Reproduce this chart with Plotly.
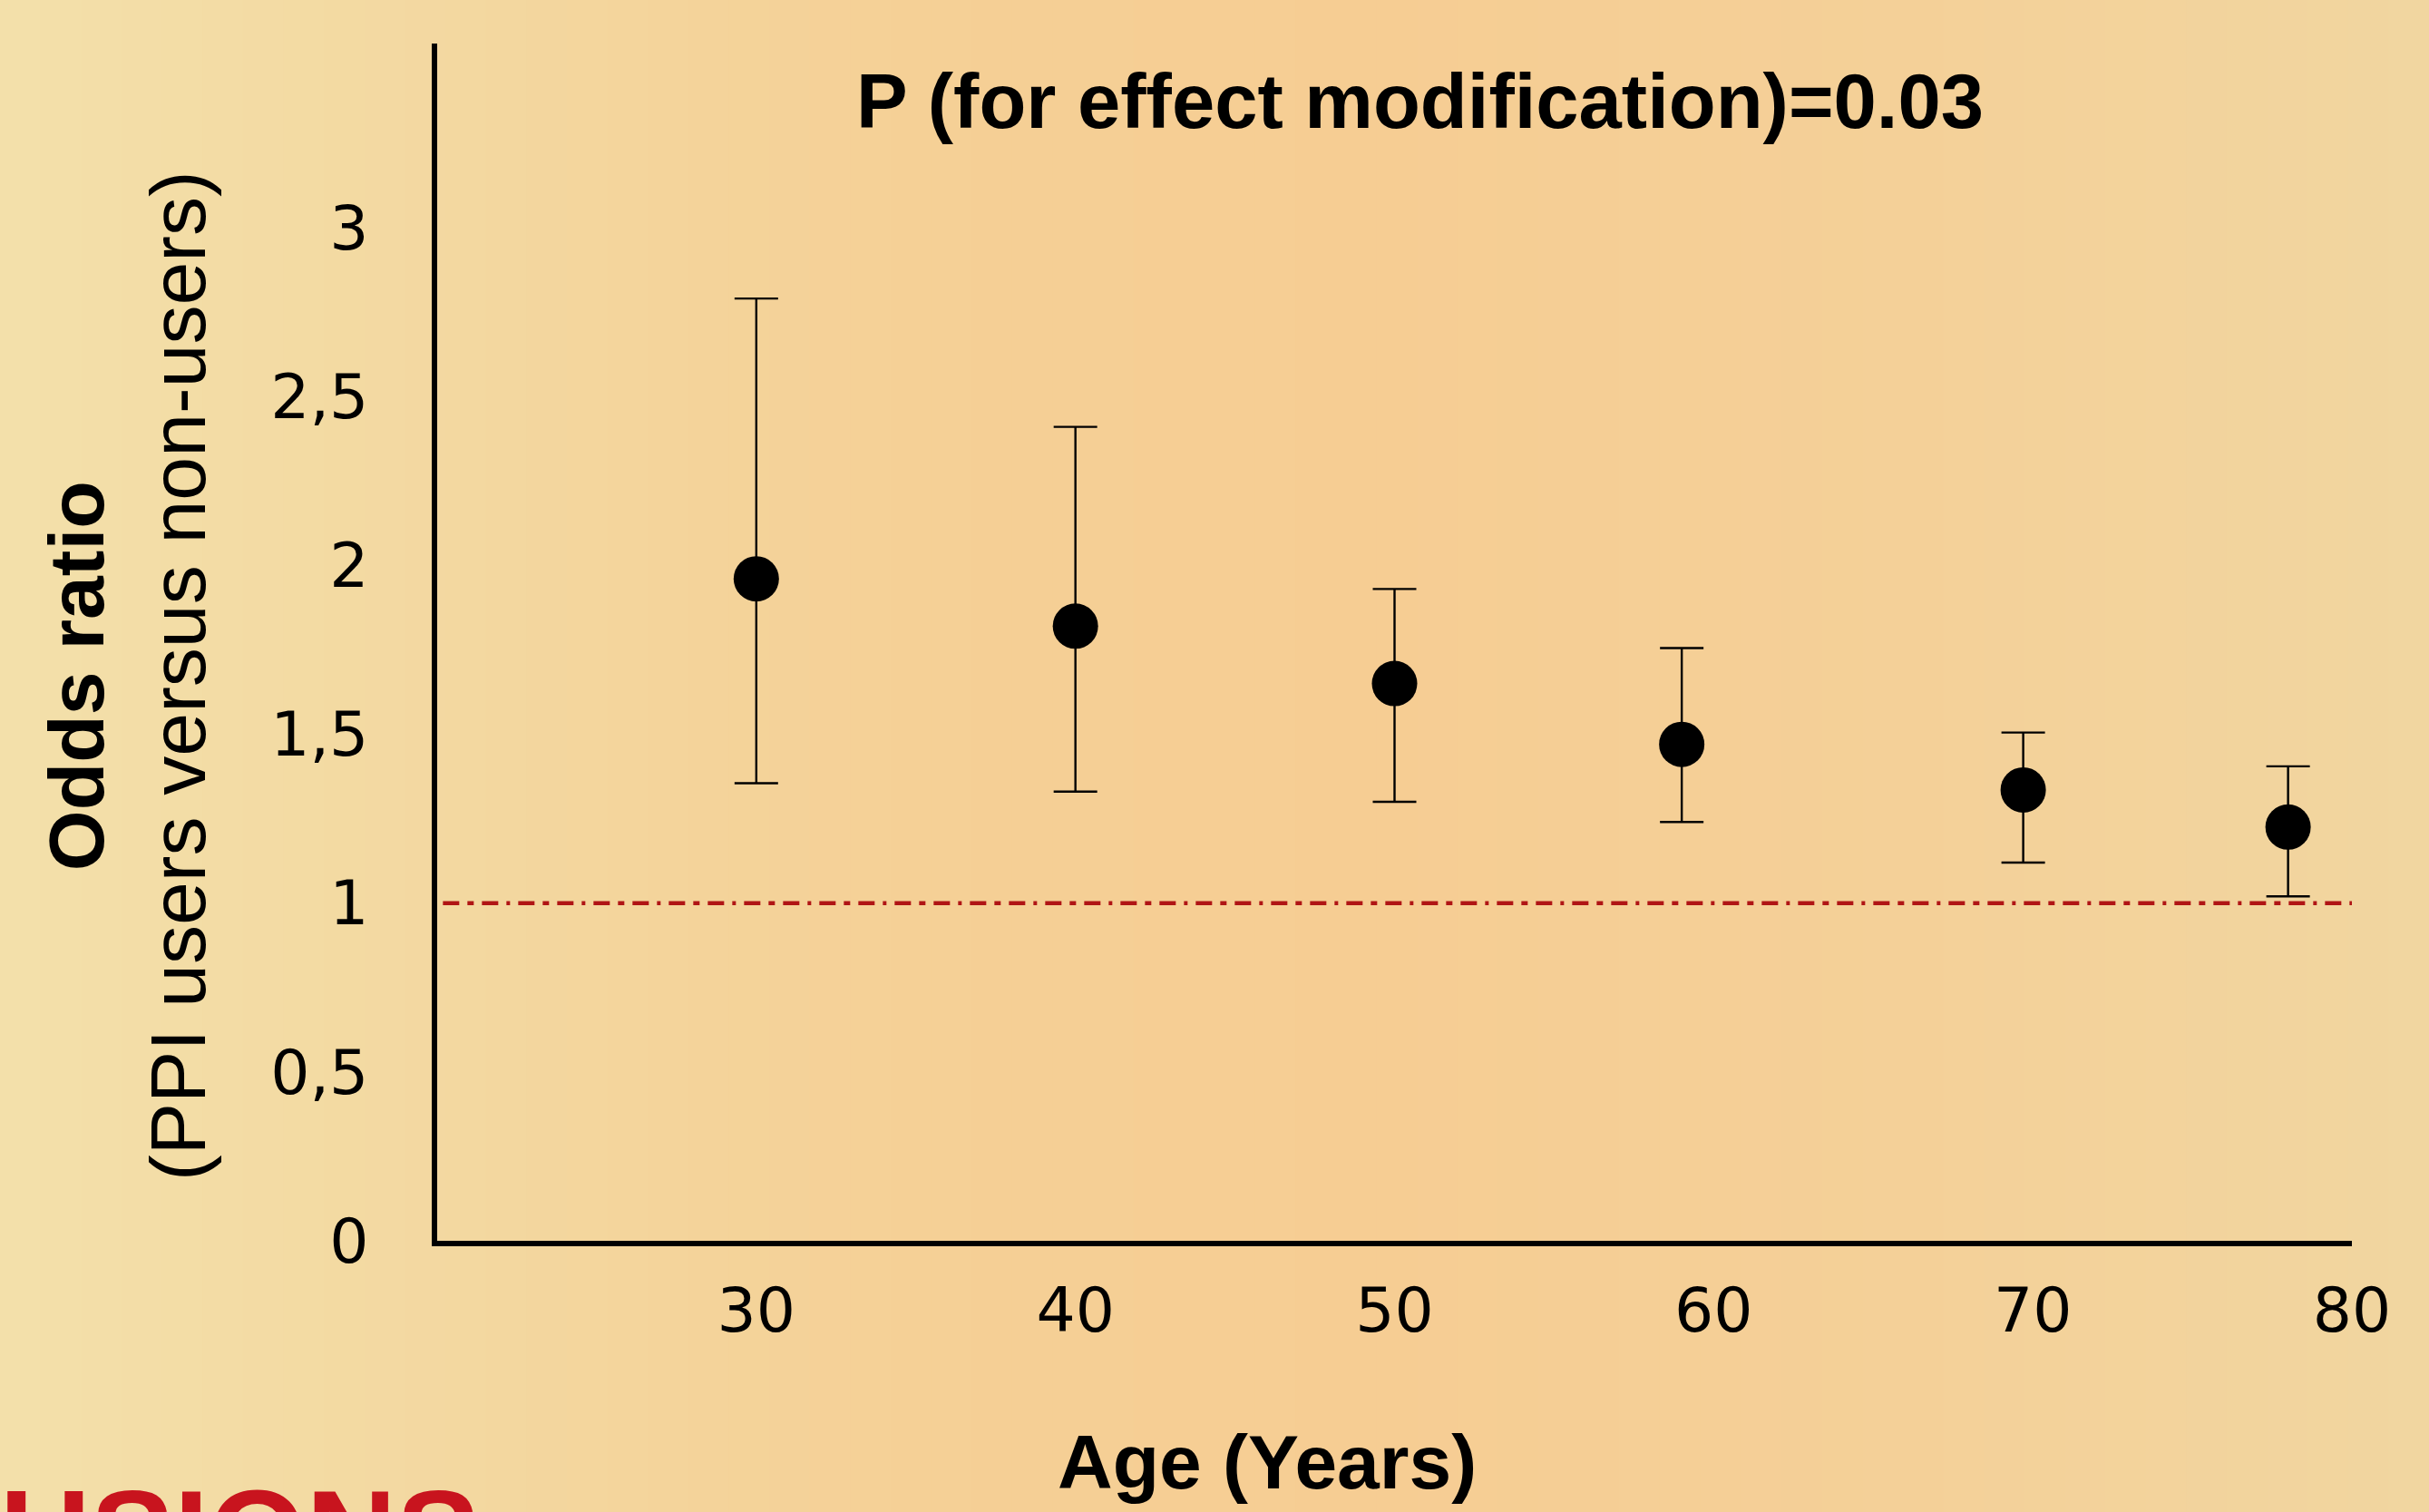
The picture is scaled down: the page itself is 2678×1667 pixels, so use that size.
import plotly.graph_objects as go

# ---- data ----
ages = [30, 40, 50, 59, 69.7, 78]
odds_ratio = [1.96, 1.82, 1.65, 1.47, 1.335, 1.225]
ci_upper = [2.79, 2.41, 1.93, 1.755, 1.505, 1.405]
ci_lower = [1.355, 1.33, 1.30, 1.24, 1.12, 1.02]
reference_or = 1.0

x_tickvals = [30, 40, 50, 60, 70, 80]
x_ticktext = ["30", "40", "50", "60", "70", "80"]
y_tickvals = [0, 0.5, 1, 1.5, 2, 2.5, 3]
y_ticktext = ["0", "0,5", "1", "1,5", "2", "2,5", "3"]

title_text = "<b>P (for effect modification)=0.03</b>"
x_title = "<b>Age (Years)</b>"
y_title = "<b>Odds ratio</b><br>(PPI users versus non-users)"
footer_text = "<b>USIONS</b>"

err_plus = [u - o for u, o in zip(ci_upper, odds_ratio)]
err_minus = [o - l for o, l in zip(odds_ratio, ci_lower)]

W, H = 2678, 1667
L, R, T, B = 482, 85, 48, 299
PW, PH = W - L - R, H - T - B


def px_to_paper_x(px):
    return (px - L) / PW


def px_to_paper_y(py):
    return (H - B - py) / PH


fig = go.Figure()

# background gradient strips (styling only)
stops = [(0, (243, 224, 170)), (500, (243, 216, 160)), (1000, (245, 208, 150)),
         (1500, (246, 205, 147)), (2100, (244, 208, 152)), (2678, (241, 214, 160))]


def col_at(px):
    for (a, ca), (b, cb) in zip(stops[:-1], stops[1:]):
        if a <= px <= b:
            t = (px - a) / (b - a)
            return tuple(int(round(ca[i] + (cb[i] - ca[i]) * t)) for i in range(3))
    return stops[-1][1]


n = 60
for i in range(n):
    x0 = W * i / n
    x1 = W * (i + 1) / n + 1
    c = col_at((x0 + x1) / 2)
    fig.add_shape(type="rect", xref="paper", yref="paper",
                  x0=px_to_paper_x(x0 - (5 if i == 0 else 0)), x1=px_to_paper_x(x1),
                  y0=px_to_paper_y(H + 5), y1=px_to_paper_y(-5),
                  fillcolor="rgb(%d,%d,%d)" % c, line_width=0, layer="below")

# reference line
fig.add_shape(type="line", xref="paper", yref="y",
              x0=0.003, x1=1.0, y0=reference_or, y1=reference_or,
              line=dict(color="#B01515", width=4.5,
                        dash="18px,9px,7px,9px,18px,9px,4px,9px"),
              layer="above")

fig.add_trace(go.Scatter(
    x=ages, y=odds_ratio, mode="markers",
    marker=dict(size=50, color="black", symbol="circle"),
    error_y=dict(type="data", symmetric=False, array=err_plus, arrayminus=err_minus,
                 color="black", thickness=2.4, width=24),
    showlegend=False, cliponaxis=False,
))

fig.update_layout(
    width=W, height=H,
    margin=dict(l=L, r=R, t=T, b=B),
    paper_bgcolor="rgb(244,212,156)",
    plot_bgcolor="rgba(0,0,0,0)",
    showlegend=False,
    xaxis=dict(range=[20, 80], showgrid=False, zeroline=False,
               showline=True, linecolor="black", linewidth=6,
               tickmode="array", tickvals=x_tickvals, ticktext=x_ticktext,
               ticks="", ticklabelstandoff=12,
               tickfont=dict(family="DejaVu Sans", size=68, color="black")),
    yaxis=dict(range=[0, 3.545], showgrid=False, zeroline=False,
               showline=True, linecolor="black", linewidth=6,
               tickmode="array", tickvals=y_tickvals, ticktext=y_ticktext,
               ticks="", ticklabelstandoff=56,
               tickfont=dict(family="DejaVu Sans", size=68, color="black")),
)

fig.add_annotation(text=title_text, xref="paper", yref="paper",
                   x=px_to_paper_x(1566), y=px_to_paper_y(111),
                   xanchor="center", yanchor="middle", showarrow=False,
                   font=dict(family="Liberation Sans", size=85, color="black"))

fig.add_annotation(text=x_title, xref="paper", yref="paper",
                   x=px_to_paper_x(1397), y=px_to_paper_y(1612),
                   xanchor="center", yanchor="middle", showarrow=False,
                   font=dict(family="Liberation Sans", size=84, color="black"))

fig.add_annotation(text=y_title, xref="paper", yref="paper",
                   x=px_to_paper_x(140), y=px_to_paper_y(745),
                   xanchor="center", yanchor="middle", showarrow=False,
                   textangle=-90,
                   font=dict(family="Liberation Sans", size=86, color="black"))

fig.add_annotation(text=footer_text, xref="paper", yref="paper",
                   x=px_to_paper_x(-2), y=px_to_paper_y(1612),
                   xanchor="left", yanchor="top", showarrow=False,
                   font=dict(family="Liberation Sans", size=138, color="#C8141E"))

fig.write_html("out.html", config={"displayModeBar": False},
               post_script="document.body.style.margin='0';document.body.style.overflow='hidden';")
